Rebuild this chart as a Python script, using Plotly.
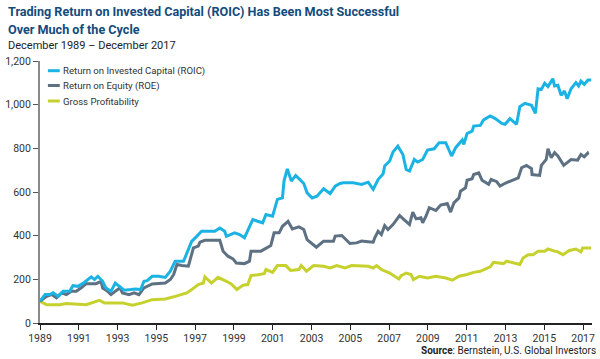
import plotly.graph_objects as go

roic_x = [1989.00,1989.26,1989.51,1989.68,1989.94,1990.19,1990.53,1990.70,1990.96,1991.30,1991.64,1991.81,1991.98,
          1992.23,1992.40,1992.66,1992.88,1993.08,1993.34,1993.68,1993.93,1994.19,1994.36,1994.53,1994.78,1995.12,
          1995.46,1995.72,1995.97,1996.40,1996.57,1996.82,1997.08,1997.33,1998.01,1998.27,1998.52,1998.61,1999.03,
          1999.29,1999.54,1999.97,2000.22,2000.48,2000.65,2000.99,2001.24,2001.50,2001.58,2001.75,2001.96,2002.18,
          2002.35,2002.60,2002.77,2003.03,2003.28,2003.62,2003.96,2004.22,2004.47,2004.64,2005.15,2005.58,2005.92,
          2006.18,2006.43,2006.69,2006.77,2007.03,2007.20,2007.45,2007.71,2007.88,2008.05,2008.30,2008.47,2008.73,
          2008.98,2009.32,2009.58,2009.92,2010.22,2010.43,2010.77,2010.85,2011.02,2011.28,2011.36,2011.70,2011.87,
          2012.21,2012.47,2012.81,2012.98,2013.23,2013.57,2013.74,2014.00,2014.34,2014.54,2014.68,2014.85,2015.02,
          2015.19,2015.44,2015.53,2015.70,2015.87,2016.04,2016.18,2016.38,2016.63,2016.77,2016.89,2017.06,2017.25,
          2017.42]
roic_y = [100,130,130,138,122,145,145,171,168,187,211,199,214,
          191,160,145,183,168,150,153,156,153,191,194,214,214,
          209,237,283,283,321,374,397,420,420,435,420,397,413,
          405,390,474,466,459,497,489,566,573,650,706,650,676,
          661,639,596,573,581,615,593,627,639,642,642,635,645,
          612,657,683,719,742,783,810,772,703,696,749,737,749,
          792,798,826,826,765,803,838,818,868,879,902,905,930,
          948,936,914,910,936,910,991,1006,997,960,1073,1070,1098,
          1083,1119,1086,1089,1043,1063,1027,1073,1101,1086,1108,1093,1113,
          1113]

roe_x = [1989.00,1989.34,1989.60,1989.85,1990.11,1990.36,1990.62,1990.87,1991.13,1991.38,1991.89,1992.15,1992.23,
         1992.49,1992.66,1992.91,1993.12,1993.25,1993.59,1993.85,1994.10,1994.36,1994.61,1994.78,1995.46,1995.72,
         1995.89,1996.06,1996.31,1996.65,1996.91,1997.16,1997.25,1997.50,1998.27,1998.44,1998.69,1998.95,1999.12,
         1999.54,1999.80,1999.88,2000.39,2000.90,2001.07,2001.33,2001.50,2001.79,2002.01,2002.35,2002.60,2002.77,
         2003.25,2003.62,2004.13,2004.22,2004.56,2004.98,2005.32,2005.58,2005.92,2006.18,2006.26,2006.43,2006.60,
         2006.77,2006.94,2007.20,2007.54,2007.79,2008.05,2008.22,2008.39,2008.64,2008.73,2008.90,2009.07,2009.41,
         2009.66,2010.00,2010.17,2010.34,2010.60,2010.68,2010.94,2011.02,2011.28,2011.36,2011.62,2011.79,2012.13,
         2012.26,2012.55,2012.72,2012.98,2013.66,2013.83,2014.08,2014.34,2014.37,2014.76,2014.85,2015.10,2015.19,
         2015.36,2015.53,2015.70,2016.00,2016.38,2016.72,2016.89,2017.06,2017.23,2017.26]
roe_y = [100,122,130,115,138,130,145,145,161,180,180,191,160,
         145,130,145,161,138,130,138,130,161,171,179,183,199,
         222,268,263,260,344,352,370,379,379,329,306,294,275,
         272,283,329,329,355,413,413,443,466,431,440,428,382,
         347,375,375,398,401,364,367,375,372,370,390,420,405,
         446,428,451,492,474,451,508,477,482,459,489,528,515,
         540,547,508,550,573,604,619,654,661,680,688,654,635,
         658,647,627,640,665,711,722,707,680,676,722,749,798,
         757,780,765,722,749,746,772,761,777,770]

gross_x = [1989.00,1989.34,1990.02,1990.36,1991.38,1992.06,1992.32,1993.25,1993.76,1994.27,1994.78,1995.46,1995.97,
           1996.31,1996.57,1996.82,1997.16,1997.42,1997.50,1997.84,1998.18,1998.61,1998.86,1999.15,1999.46,1999.71,
           1999.88,2000.22,2000.56,2000.65,2000.99,2001.24,2001.67,2001.92,2002.35,2002.47,2002.74,2003.11,2003.62,
           2003.96,2004.30,2004.73,2005.07,2005.92,2006.18,2006.35,2006.60,2007.03,2007.28,2007.50,2007.62,2007.88,
           2008.13,2008.25,2008.56,2008.98,2009.41,2009.92,2010.26,2010.60,2011.02,2011.36,2011.70,2011.96,2012.21,
           2012.38,2012.89,2013.06,2013.32,2013.74,2013.91,2014.17,2014.42,2014.68,2015.02,2015.19,2015.53,2015.70,
           2015.96,2016.29,2016.63,2016.89,2016.98,2017.42]
gross_y = [99,84,84,89,84,104,92,92,81,92,107,110,122,
           133,138,153,176,183,211,183,209,191,179,153,173,176,
           217,221,226,245,232,263,263,241,245,263,237,263,260,
           252,263,252,263,260,252,263,245,229,214,202,217,229,
           222,199,214,206,214,206,196,214,222,232,237,248,257,
           278,272,283,278,268,298,313,313,329,329,339,329,326,
           313,332,339,326,344,344]

series_names = ["Return on Invested Capital (ROIC)", "Return on Equity (ROE)", "Gross Profitability"]
series_colors = ["#1bb3e4", "#5d7183", "#c6d12d"]

y_tickvals = [0, 200, 400, 600, 800, 1000, 1200]
y_ticktext = ["0", "200", "400", "600", "800", "1,000", "1,200"]
x_tickvals = list(range(1989, 2018, 2))

fig = go.Figure()
for xs, ys, name, col in [(gross_x, gross_y, series_names[2], series_colors[2]),
                          (roe_x, roe_y, series_names[1], series_colors[1]),
                          (roic_x, roic_y, series_names[0], series_colors[0])]:
    fig.add_trace(go.Scatter(x=xs, y=ys, mode="lines", name=name,
                             line=dict(color=col, width=3), showlegend=False))

body_font = "Roboto, Lato, sans-serif"
title_font = "Roboto, sans-serif"

L, T, R, B = 37, 61, 5, 36
PW, PH = 600 - L - R, 359 - T - B

fig.update_layout(
    width=600, height=359,
    margin=dict(l=L, r=R, t=T, b=B),
    paper_bgcolor="white", plot_bgcolor="white",
    font=dict(family=body_font, size=10, color="#333333"),
    xaxis=dict(range=[1989, 2017.46], tickvals=x_tickvals, ticktext=[str(v) for v in x_tickvals],
               showgrid=False, zeroline=False, showline=True, linecolor="#222222", linewidth=1.5,
               ticks="outside", ticklen=5, tickcolor="#222222", tickwidth=1,
               tickfont=dict(family=body_font, size=10.5, color="#333333")),
    yaxis=dict(range=[0, 1200], tickvals=y_tickvals, ticktext=y_ticktext,
               showgrid=False, zeroline=False, showline=True, linecolor="#8a8a8a", linewidth=2,
               ticks="outside", ticklen=5, tickcolor="#555555", tickwidth=1,
               tickfont=dict(family=body_font, size=10.5, color="#333333")),
)

def px(xp):
    return (xp - L) / PW

def py(yp):
    return 1 - (yp - T) / PH

fig.add_annotation(text="<b>Trading Return on Invested Capital (ROIC) Has Been Most Successful</b>",
                   xref="paper", yref="paper", x=px(3), y=py(11.5), xanchor="left", yanchor="middle",
                   showarrow=False, font=dict(family=title_font, size=12.6, color="#134b7d"))
fig.add_annotation(text="<b>Over Much of the Cycle</b>",
                   xref="paper", yref="paper", x=px(3), y=py(29), xanchor="left", yanchor="middle",
                   showarrow=False, font=dict(family=title_font, size=12.6, color="#134b7d"))
fig.add_annotation(text="December 1989 – December 2017",
                   xref="paper", yref="paper", x=px(3), y=py(45.5), xanchor="left", yanchor="middle",
                   showarrow=False, font=dict(family=body_font, size=11, color="#222222"))
fig.add_annotation(text="<b>Source</b>: Bernstein, U.S. Global Investors",
                   xref="paper", yref="paper", x=px(601), y=py(343), xanchor="right", yanchor="top",
                   showarrow=False, font=dict(family=body_font, size=10, color="#222222"))

# legend
leg_rows = [70.7, 85.5, 101]
for name, col, yy in zip(series_names, series_colors, leg_rows):
    fig.add_shape(type="line", xref="paper", yref="paper",
                  x0=px(45), x1=px(57), y0=py(yy), y1=py(yy),
                  line=dict(color=col, width=3))
    fig.add_annotation(text=name, xref="paper", yref="paper", x=px(58.5), y=py(yy),
                       xanchor="left", yanchor="middle", showarrow=False,
                       font=dict(family=body_font, size=9.6, color="#333333"))

fig.write_html("out.html", config={"displayModeBar": False},
               post_script="document.body.style.margin='0';document.body.style.overflow='hidden';")
